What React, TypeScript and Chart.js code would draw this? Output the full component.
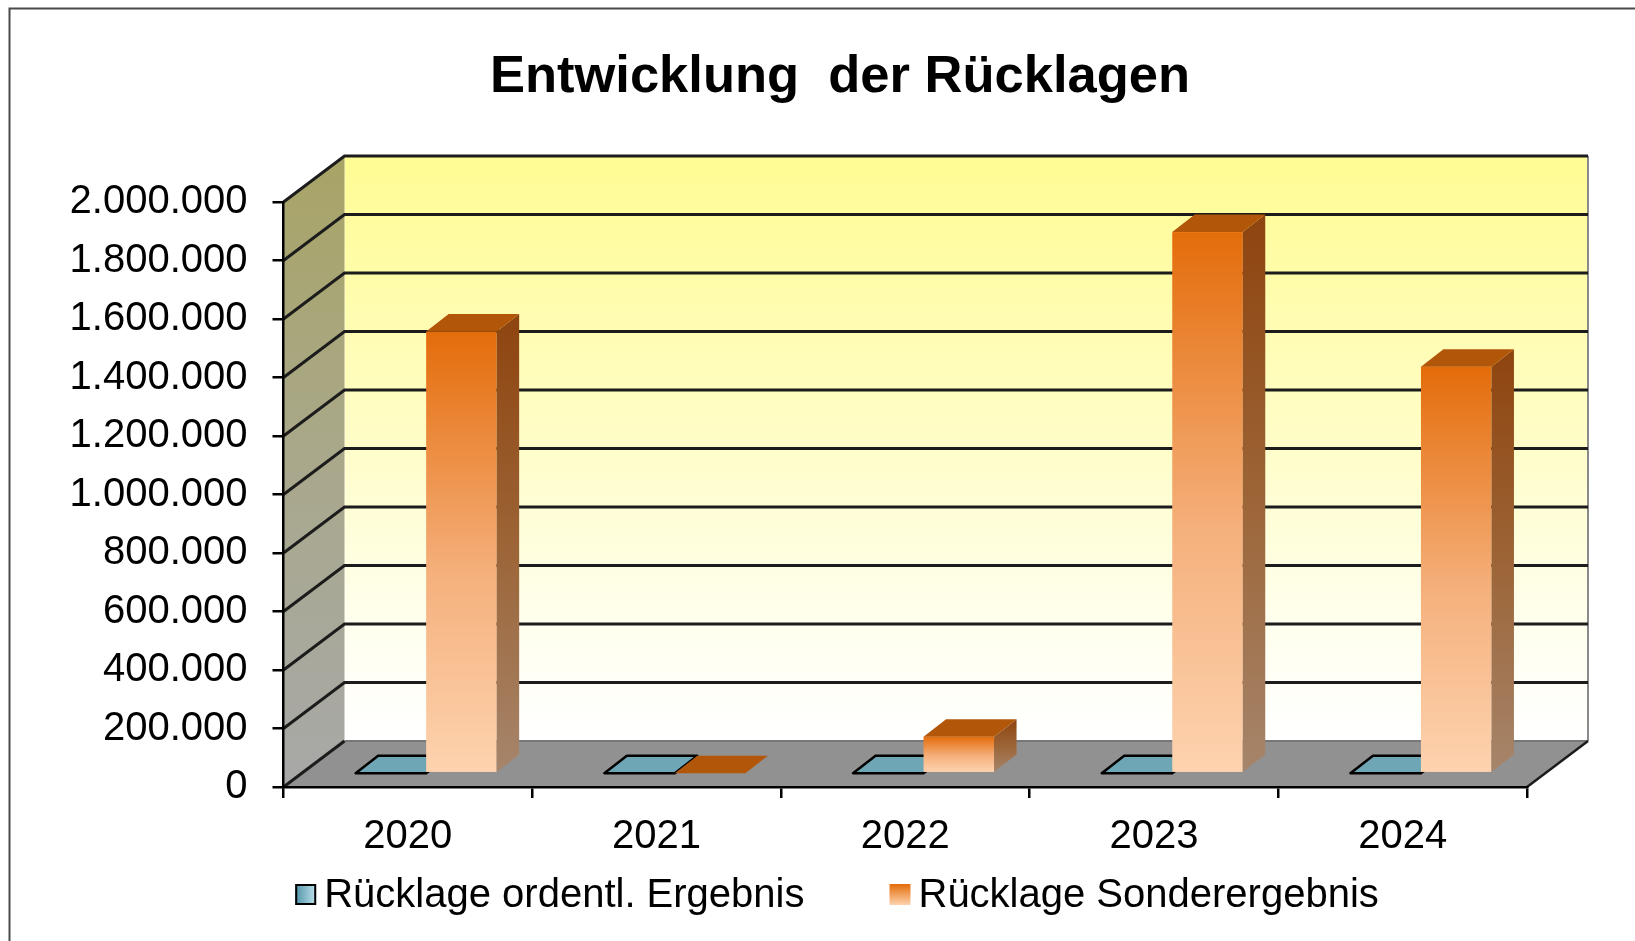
import React, { useEffect, useRef } from 'react';
import { Chart, registerables } from 'chart.js';

Chart.register(...registerables);

// ---- data ----
const TITLE = 'Entwicklung  der Rücklagen';
const CATEGORIES = ['2020', '2021', '2022', '2023', '2024'];
const SERIES_NAMES = ['Rücklage ordentl. Ergebnis', 'Rücklage Sonderergebnis'];
const ORDENTL = [0, 0, 0, 0, 0];
const SONDER = [1510000, 0, 125000, 1850000, 1390000];
const Y_MIN = 0;
const Y_MAX = 2000000;
const Y_STEP = 200000;

// ---- style ----
const FONT = '"Liberation Sans", Arial, Helvetica, sans-serif';
const WALL_DX = 61;
const WALL_DY = -46;
const BAR_POS = 0.3;
const BAR_DX = 22.5;
const BAR_DY = -17.5;

const fmt = (v: number) => (v === 0 ? '0' : String(Math.round(v)).replace(/\B(?=(\d{3})+(?!\d))/g, '.'));

type BarStyle = {
  front: [number, string][];
  side: [number, string][];
  top: string;
  outline: string | null;
};

const STYLES: BarStyle[] = [
  {
    front: [[0, '#4F93A8'], [1, '#B5DCE7']],
    side: [[0, '#3E7384'], [1, '#7FA3AE']],
    top: '#6FA6B6',
    outline: '#000000',
  },
  {
    front: [[0, '#E46C0A'], [0.55, '#F5B07C'], [1, '#FDD3AF']],
    side: [[0, '#8E440F'], [0.5, '#9C6436'], [1, '#A6856B']],
    top: '#B2560A',
    outline: null,
  },
];

function drawBar(ctx: CanvasRenderingContext2D, x0: number, x1: number, yTop: number, yBot: number, st: BarStyle) {
  const fx = WALL_DX * BAR_POS;
  const fy = WALL_DY * BAR_POS;
  const X0 = x0 + fx;
  const X1 = x1 + fx;
  const T = yTop + fy;
  const B = yBot + fy;
  const h = B - T;
  if (h > 0.5) {
    const g = ctx.createLinearGradient(0, T, 0, B);
    st.front.forEach(([o, c]) => g.addColorStop(o, c));
    ctx.fillStyle = g;
    ctx.fillRect(X0, T, X1 - X0, h);
    const gs = ctx.createLinearGradient(0, T + BAR_DY, 0, B);
    st.side.forEach(([o, c]) => gs.addColorStop(o, c));
    ctx.fillStyle = gs;
    ctx.beginPath();
    ctx.moveTo(X1, T);
    ctx.lineTo(X1 + BAR_DX, T + BAR_DY);
    ctx.lineTo(X1 + BAR_DX, B + BAR_DY);
    ctx.lineTo(X1, B);
    ctx.closePath();
    ctx.fill();
  }
  ctx.fillStyle = st.top;
  ctx.beginPath();
  ctx.moveTo(X0, T);
  ctx.lineTo(X1, T);
  ctx.lineTo(X1 + BAR_DX, T + BAR_DY);
  ctx.lineTo(X0 + BAR_DX, T + BAR_DY);
  ctx.closePath();
  ctx.fill();
  if (st.outline) {
    ctx.strokeStyle = st.outline;
    ctx.lineWidth = 2.5;
    ctx.lineJoin = 'round';
    ctx.stroke();
  }
}

const scene3d = {
  id: 'scene3d',
  beforeDraw(chart: any) {
    const { ctx, chartArea: a, scales } = chart;
    const ys = scales.y;
    const L = a.left, R = a.right, T = a.top, B = a.bottom;
    ctx.save();
    ctx.fillStyle = '#ffffff';
    ctx.fillRect(0, 0, chart.width, chart.height);

    // outer frame (left + top visible)
    ctx.strokeStyle = '#4a4a4a';
    ctx.lineWidth = 2;
    ctx.beginPath();
    ctx.moveTo(9.5, chart.height);
    ctx.lineTo(9.5, 8.5);
    ctx.lineTo(chart.width, 8.5);
    ctx.stroke();

    // back wall
    const bg = ctx.createLinearGradient(0, T + WALL_DY, 0, B + WALL_DY);
    bg.addColorStop(0, '#FFFC94');
    bg.addColorStop(0.45, '#FFFDC3');
    bg.addColorStop(0.8, '#FFFFEE');
    bg.addColorStop(1, '#FFFFFF');
    ctx.fillStyle = bg;
    ctx.fillRect(L + WALL_DX, T + WALL_DY, R - L, B - T);

    // side wall
    const sg = ctx.createLinearGradient(0, T + WALL_DY, 0, B);
    sg.addColorStop(0, '#A8A466');
    sg.addColorStop(0.5, '#A9A88C');
    sg.addColorStop(1, '#A8A8A8');
    ctx.fillStyle = sg;
    ctx.beginPath();
    ctx.moveTo(L, T);
    ctx.lineTo(L + WALL_DX, T + WALL_DY);
    ctx.lineTo(L + WALL_DX, B + WALL_DY);
    ctx.lineTo(L, B);
    ctx.closePath();
    ctx.fill();

    // floor
    ctx.fillStyle = '#919191';
    ctx.beginPath();
    ctx.moveTo(L, B);
    ctx.lineTo(R, B);
    ctx.lineTo(R + WALL_DX, B + WALL_DY);
    ctx.lineTo(L + WALL_DX, B + WALL_DY);
    ctx.closePath();
    ctx.fill();

    // back wall right edge & floor back edge
    ctx.strokeStyle = '#8a8a8a';
    ctx.lineWidth = 2;
    ctx.beginPath();
    ctx.moveTo(R + WALL_DX, T + WALL_DY);
    ctx.lineTo(R + WALL_DX, B + WALL_DY);
    ctx.stroke();
    ctx.strokeStyle = '#777777';
    ctx.beginPath();
    ctx.moveTo(L + WALL_DX, B + WALL_DY);
    ctx.lineTo(R + WALL_DX, B + WALL_DY);
    ctx.stroke();

    // gridlines
    ctx.strokeStyle = '#1c1c1c';
    ctx.lineWidth = 3;
    ctx.lineJoin = 'miter';
    ys.ticks.forEach((t: any) => {
      const py = ys.getPixelForValue(t.value);
      ctx.beginPath();
      ctx.moveTo(L, py);
      ctx.lineTo(L + WALL_DX, py + WALL_DY);
      if (t.value !== Y_MIN) ctx.lineTo(R + WALL_DX, py + WALL_DY);
      ctx.stroke();
    });

    // floor right edge
    ctx.strokeStyle = '#1c1c1c';
    ctx.lineWidth = 2.5;
    ctx.beginPath();
    ctx.moveTo(R, B);
    ctx.lineTo(R + WALL_DX, B + WALL_DY);
    ctx.stroke();
    ctx.restore();
  },
  beforeDatasetsDraw(chart: any) {
    const { ctx } = chart;
    ctx.save();
    const n = chart.data.labels.length;
    for (let j = 0; j < n; j++) {
      chart.data.datasets.forEach((_ds: any, i: number) => {
        const meta = chart.getDatasetMeta(i);
        const el = meta.data[j];
        if (!el) return;
        const p = el.getProps(['x', 'y', 'base', 'width'], true);
        drawBar(ctx, p.x - p.width / 2, p.x + p.width / 2, Math.min(p.y, p.base), Math.max(p.y, p.base), STYLES[i]);
      });
    }
    ctx.restore();
    return false;
  },
  afterDraw(chart: any) {
    const { ctx } = chart;
    ctx.save();
    // title
    ctx.fillStyle = '#000';
    ctx.font = `bold 52.5px ${FONT}`;
    ctx.textAlign = 'center';
    ctx.textBaseline = 'alphabetic';
    ctx.fillText(TITLE, 840, 92);

    // legend
    ctx.font = `40px ${FONT}`;
    ctx.textAlign = 'left';
    const box = 21;
    const gap = 8;
    const itemGap = 85;
    const names: string[] = chart.data.datasets.map((d: any) => d.label);
    const widths = names.map((s) => ctx.measureText(s).width);
    const total = widths.reduce((s, w) => s + box + gap + w, 0) + itemGap * (names.length - 1);
    let x = 837 - total / 2;
    const boxTop = 884;
    const baseline = 907;
    names.forEach((s, i) => {
      let g;
      if (i === 0) {
        g = ctx.createLinearGradient(x, 0, x + box, 0);
        g.addColorStop(0, '#4F93A8');
        g.addColorStop(1, '#BFE2EC');
      } else {
        g = ctx.createLinearGradient(0, boxTop, 0, boxTop + box);
        g.addColorStop(0, '#E46C0A');
        g.addColorStop(1, '#FDD3AF');
      }
      ctx.fillStyle = g;
      ctx.fillRect(x, boxTop, box, box);
      if (STYLES[i].outline) {
        ctx.strokeStyle = '#000';
        ctx.lineWidth = 2;
        ctx.strokeRect(x + 1, boxTop + 1, box - 2, box - 2);
      }
      ctx.fillStyle = '#000';
      ctx.fillText(s, x + box + gap, baseline);
      x += box + gap + widths[i] + itemGap;
    });
    ctx.restore();
  },
};

export default function App() {
  const ref = useRef<HTMLCanvasElement | null>(null);
  useEffect(() => {
    const canvas = ref.current;
    if (!canvas) return;
    const chart = new Chart(canvas, {
      type: 'bar',
      data: {
        labels: CATEGORIES,
        datasets: [
          { label: SERIES_NAMES[0], data: ORDENTL, backgroundColor: '#70A8B8', borderColor: '#000', borderWidth: 0 },
          { label: SERIES_NAMES[1], data: SONDER, backgroundColor: '#E46C0A', borderWidth: 0 },
        ],
      },
      options: {
        responsive: false,
        animation: false,
        devicePixelRatio: 1,
        events: [],
        layout: { padding: { left: 71.5, top: 202, right: 108, bottom: 74 } },
        datasets: { bar: { categoryPercentage: 0.567, barPercentage: 1 } },
        plugins: {
          legend: { display: false },
          title: { display: false },
          tooltip: { enabled: false },
        },
        scales: {
          x: {
            ticks: { font: { family: FONT, size: 40 }, color: '#000', padding: 15 },
            grid: { offset: true, drawOnChartArea: false, drawTicks: true, tickLength: 11, color: '#000', lineWidth: 2.5 },
            border: { display: true, color: '#000', width: 2.5 },
            afterFit: (s: any) => { s.height = 80; },
          },
          y: {
            min: Y_MIN,
            max: Y_MAX,
            ticks: {
              stepSize: Y_STEP,
              font: { family: FONT, size: 40 },
              color: '#000',
              padding: 25,
              callback: (v: any) => fmt(Number(v)),
            },
            grid: { drawOnChartArea: false, drawTicks: true, tickLength: 11, color: '#000', lineWidth: 2.5 },
            border: { display: true, color: '#000', width: 2.5 },
            afterFit: (s: any) => { s.width = 212; },
          },
        },
      },
      plugins: [scene3d],
    } as any);
    return () => chart.destroy();
  }, []);
  return (
    <canvas
      ref={ref}
      width={1635}
      height={941}
      style={{ position: 'fixed', left: 0, top: 0, width: '1635px', height: '941px', display: 'block' }}
    />
  );
}
